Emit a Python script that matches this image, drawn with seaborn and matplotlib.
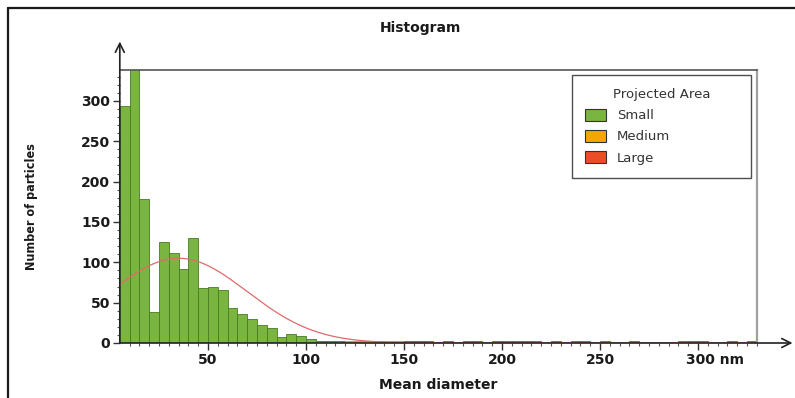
import numpy as np
import pandas as pd
import matplotlib
matplotlib.use("Agg")
import matplotlib.pyplot as plt
from matplotlib.lines import Line2D
from matplotlib.patches import Patch
from matplotlib import font_manager
import matplotlib.transforms as mtransforms
import seaborn as sns

# ---------------- data ----------------
# left edges of 5 nm bins and counts per projected-area class
small_left = [5, 10, 15, 20, 25, 30, 35, 40, 45, 50, 55, 60, 65, 70, 75, 80,
              85, 90, 95, 100, 105, 110, 115]
small_counts = [294, 345, 179, 38, 125, 111, 92, 130, 68, 69, 66, 43, 36, 30,
                22, 19, 7, 11, 9, 5, 3, 3, 2]
medium_left = [120, 125, 130, 135, 140, 145]
medium_counts = [2, 2, 2, 2, 2, 2]
large_left = [150, 155, 160, 170, 180, 185, 195, 200, 205, 210, 215, 225,
              235, 240, 250, 265, 290, 295, 300, 315, 325]
large_counts = [3, 3, 3, 3, 3, 3, 3, 3, 3, 3, 3, 3, 3, 3, 3, 3, 3, 3, 3, 3, 3]

# fitted normal curve parameters
fit_mean = 35
fit_sd = 35
fit_peak = 105

x_ticks = [50, 100, 150, 200, 250, 300]
x_tick_labels = ["50", "100", "150", "200", "250", "300 nm"]
y_ticks = [0, 50, 100, 150, 200, 250, 300]
classes = ["Small", "Medium", "Large"]
class_colors = {"Small": "#7ab441", "Medium": "#f7a600", "Large": "#ec4d27"}
class_edges = {"Small": "#4a7a22", "Medium": "#e09000", "Large": "#e03a18"}

bin_width = 5
x_min, x_max = 5, 330
y_max = 338

# ---------------- figure ----------------
sns.set_theme(style="white")
plt.rcParams["font.family"] = ["DejaVu Sans"]

fig = plt.figure(figsize=(7.95, 3.98), dpi=100)
ax = fig.add_axes([0.1507, 0.1382, 0.8013, 0.6854])

frames = []
for name, lefts, counts in [("Small", small_left, small_counts),
                            ("Medium", medium_left, medium_counts),
                            ("Large", large_left, large_counts)]:
    frames.append(pd.DataFrame({"diameter": np.array(lefts, float) + bin_width / 2,
                                "count": np.array(counts, float), "area": name}))
df = pd.concat(frames, ignore_index=True)

for name in classes:
    sub = df[df["area"] == name].reset_index(drop=True)
    sns.histplot(data=sub, x="diameter", weights="count",
                 binwidth=bin_width, binrange=(x_min, x_max),
                 color=class_colors[name], edgecolor=class_edges[name],
                 linewidth=0.6, alpha=1.0, ax=ax)

# fitted curve
xs = np.linspace(x_min, x_max, 400)
ys = fit_peak * np.exp(-(xs - fit_mean) ** 2 / (2 * fit_sd ** 2))
sns.lineplot(x=xs, y=ys, color="#e06a6a", linewidth=0.9, ax=ax)

ax.set_xlim(x_min, x_max)
ax.set_ylim(0, y_max)

# spines
ax.spines["left"].set_visible(False)
ax.spines["bottom"].set_visible(False)
ax.spines["top"].set_color("#555555")
ax.spines["top"].set_linewidth(1.2)
ax.spines["right"].set_color("#a0a0a0")
ax.spines["right"].set_linewidth(1.6)

# axis arrows
ax.annotate("", xy=(0, 1.105), xytext=(0, 0), xycoords="axes fraction",
            arrowprops=dict(arrowstyle="->", lw=1.2, color="#222222",
                            mutation_scale=16, shrinkA=0, shrinkB=0),
            annotation_clip=False)
ax.annotate("", xy=(1.056, 0), xytext=(0, 0), xycoords="axes fraction",
            arrowprops=dict(arrowstyle="->", lw=1.2, color="#222222",
                            mutation_scale=16, shrinkA=0, shrinkB=0),
            annotation_clip=False)

# ticks
ax.set_xticks(x_ticks)
ax.set_xticklabels(x_tick_labels)
ax.set_yticks(y_ticks)
ax.set_xticks(np.arange(10, x_max + 1, 5), minor=True)
ax.set_yticks(np.arange(10, y_max, 10), minor=True)
ax.tick_params(axis="both", which="major", direction="out", length=5,
               width=1, color="#333333", labelsize=10, labelcolor="#1a1a1a",
               pad=2, bottom=True, left=True)
ax.tick_params(axis="both", which="minor", direction="out", length=2.5,
               width=0.8, color="#555555", bottom=True, left=True)
for lab in ax.get_xticklabels() + ax.get_yticklabels():
    lab.set_fontweight("bold")
last = ax.get_xticklabels()[-1]
last.set_horizontalalignment("left")
last.set_transform(last.get_transform() +
                   mtransforms.ScaledTranslation(-0.12, 0, fig.dpi_scale_trans))

ax.set_xlabel("")
ax.set_ylabel("")
ax.grid(False)

# titles / labels
fig.text(420 / 795, 1 - 28 / 398, "Histogram", ha="center", va="center",
         fontsize=10, fontweight="bold", color="#1a1a1a")
fig.text(438 / 795, 1 - 385 / 398, "Mean diameter", ha="center", va="center",
         fontsize=10, fontweight="bold", color="#1a1a1a")

narrow = None
for f in font_manager.fontManager.ttflist:
    if f.name == "Liberation Sans Narrow":
        narrow = "Liberation Sans Narrow"
        break
if narrow:
    fig.text(32 / 795, 1 - 207 / 398, "Number of particles", rotation=90,
             ha="center", va="center", fontsize=10, fontweight="bold",
             family=narrow, color="#1a1a1a")
else:
    fig.text(32 / 795, 1 - 207 / 398, "Number of particles", rotation=90,
             ha="center", va="center", fontsize=9, fontweight="bold",
             fontstretch="condensed", color="#1a1a1a")

# legend
handles = [Patch(facecolor=class_colors[c], edgecolor="#333333", linewidth=0.8,
                 label=c) for c in classes]
leg = ax.legend(handles=handles, title="Projected Area",
                bbox_to_anchor=(0.710, 0.0, 0.281, 0.982), loc="upper left",
                mode="expand", fontsize=9.5, title_fontsize=9.5,
                frameon=True, fancybox=False, edgecolor="#222222",
                handlelength=1.6, handleheight=1.0, handletextpad=0.8,
                labelspacing=0.58, borderpad=1.0, borderaxespad=0)
leg.get_frame().set_linewidth(1.0)
for t in leg.get_texts():
    t.set_color("#333333")
leg.get_title().set_color("#333333")

# outer image frame (left and top)
fig.add_artist(Line2D([8 / 795, 8 / 795], [0, 1 - 8 / 398], color="#1a1a1a",
                      lw=1.6, transform=fig.transFigure))
fig.add_artist(Line2D([8 / 795, 1], [1 - 8 / 398, 1 - 8 / 398],
                      color="#1a1a1a", lw=1.6, transform=fig.transFigure))

fig.savefig("out.png", dpi=100)
